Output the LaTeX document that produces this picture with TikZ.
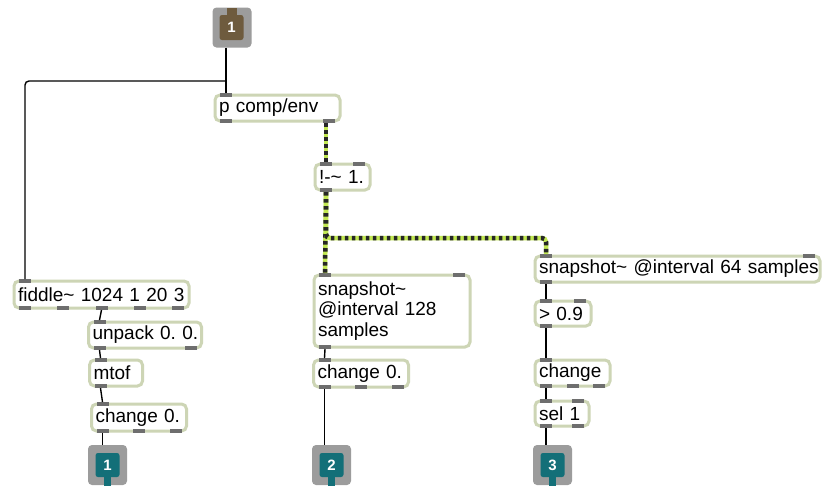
\documentclass[tikz,border=0pt]{standalone}
\usepackage{fontspec}
\setmainfont{Liberation Sans}
\frenchspacing
\definecolor{boxborder}{HTML}{CDD5B5}
\definecolor{tabgray}{HTML}{6E6E6E}
\definecolor{ioframe}{HTML}{9C9C9C}
\definecolor{inbrown}{HTML}{6E5B3E}
\definecolor{outteal}{HTML}{136F78}
\definecolor{siggreen}{HTML}{C2E852}
\newcommand\mxrow[6]{%
  \foreach \k in {1,...,#3}{%
    \ifnum#3=1 \pgfmathsetmacro\off{5}\else\pgfmathsetmacro\off{5+(\k-1)*(#2-22)/(#3-1)}\fi
    \coordinate (#1-#5\k) at ([xshift=\off pt+6pt,yshift=#6pt]#1.#4 west);
    \fill[tab] ([xshift=-6pt]#1-#5\k) rectangle ++(12,{2*#6});
  }}
\newcommand\mxports[4]{\mxrow{#1}{#2}{#3}{north}{i}{2}\mxrow{#1}{#2}{#4}{south}{o}{-2}}
\begin{document}
\begin{tikzpicture}[x=1pt,y=-1pt,
  obj/.style={draw=boxborder, line width=3pt, fill=white, rounded corners=5pt,
    anchor=north west, outer sep=0pt, inner xsep=4pt, inner ysep=0pt,
    minimum height=26pt, align=left, font=\fontsize{19}{20.5}\selectfont},
  tab/.style={fill=tabgray},
  cord/.style={draw=black, line width=1.4pt, rounded corners=4pt},
  sig/.style={line width=4.5pt, draw=siggreen, rounded corners=4pt,
    postaction={draw=black!85, line width=4.5pt, dash pattern=on 3.6pt off 3.4pt}},
  ioframe/.style={fill=ioframe, rounded corners=4pt, minimum width=39pt, minimum height=40pt, inner sep=0pt},
  ioinner/.style={rounded corners=2.5pt, minimum width=24pt, minimum height=24pt, inner sep=0pt,
    text=white, font=\fontsize{15}{15}\selectfont\bfseries},
]
\useasboundingbox[fill=white] (0,0) rectangle (824,485);

% inlet 1
\node[ioframe] (in1) at (232,27.5) {};
\node[ioinner, fill=inbrown, minimum height=25pt] (in1n) at (231.5,27.5) {1};
\fill[inbrown] ([xshift=-5pt]in1n.north) rectangle ++(10,-7);

% outlets
\node[ioframe] (o1) at (107.5,465) {};
\node[ioinner, fill=outteal] (o1n) at (107.5,465) {1};
\fill[outteal] ([xshift=-3.5pt]o1n.south) rectangle ++(7,12);
\node[ioframe] (o2) at (331.5,465) {};
\node[ioinner, fill=outteal] (o2n) at (331.5,465) {2};
\fill[outteal] ([xshift=-3.5pt]o2n.south) rectangle ++(7,12);
\node[ioframe] (o3) at (552.5,465) {};
\node[ioinner, fill=outteal] (o3n) at (552.5,465) {3};
\fill[outteal] ([xshift=-3.5pt]o3n.south) rectangle ++(7,12);

% objects
\node[obj, minimum width=125pt, text width=117pt] (pc) at (215,95) {\mbox{p comp/env}};
\mxports{pc}{125}{1}{2}
\node[obj, minimum width=55pt, text width=47pt] (bg) at (315,164) {\mbox{!-\textasciitilde{} 1.}};
\mxports{bg}{55}{2}{1}
\node[obj, minimum width=156pt, text width=148pt, minimum height=72pt] (sL) at (314,275) {snapshot\textasciitilde\\@interval 128\\samples};
\mxports{sL}{156}{2}{1}
\node[obj, minimum width=285pt, text width=277pt] (sR) at (535,256) {\mbox{snapshot\textasciitilde{} @interval 64 samples}};
\mxports{sR}{285}{2}{1}
\node[obj, minimum width=56pt, text width=48pt, minimum height=25pt] (gt) at (535,301) {\mbox{> 0.9}};
\mxports{gt}{56}{2}{1}
\node[obj, minimum width=75pt, text width=67pt] (chR) at (535,360) {\mbox{change}};
\mxports{chR}{75}{1}{3}
\node[obj, minimum width=54pt, text width=46pt, minimum height=25pt] (sel) at (535,401) {\mbox{sel 1}};
\mxports{sel}{54}{2}{2}
\node[obj, minimum width=175pt, text width=167pt, minimum height=27pt] (fd) at (14,281) {\mbox{fiddle\textasciitilde{} 1024 1 20 3}};
\mxports{fd}{175}{1}{5}
\node[obj, minimum width=113pt, text width=105pt] (up) at (88.5,322) {\mbox{unpack 0. 0.}};
\mxports{up}{113}{1}{2}
\node[obj, minimum width=53pt, text width=45pt] (mt) at (89.5,360) {\mbox{mtof}};
\mxports{mt}{53}{1}{1}
\node[obj, minimum width=95pt, text width=87pt, minimum height=27pt] (chL) at (91.5,404) {\mbox{change 0.}};
\mxports{chL}{95}{1}{3}
\node[obj, minimum width=95pt, text width=87pt, minimum height=27pt] (chM) at (313.5,360) {\mbox{change 0.}};
\mxports{chM}{95}{1}{3}

% control cords
\draw[cord] (in1.south -| pc-i1) -- (pc-i1);
\draw[cord] (pc-i1 |- 0,81) -| (fd-i1);
\draw[cord] (fd-o3) -- (up-i1);
\draw[cord] (up-o1) -- (mt-i1);
\draw[cord] (mt-o1) -- (chL-i1);
\draw[cord] (chL-o1) -- (chL-o1 |- o1.north);
\draw[cord] (sL-o1) -- (chM-i1);
\draw[cord] (chM-o1) -- (chM-o1 |- o2.north);
\draw[cord] (sR-o1) -- (gt-i1);
\draw[cord] (gt-o1) -- (chR-i1);
\draw[cord] (chR-o1) -- (sel-i1);
\draw[cord] (sel-o1) -- (sel-o1 |- o3.north);

% signal cords
\draw[sig] (pc-o2 -| bg-i1) -- (bg-i1);
\draw[sig] (bg-o1) -- (sL-i1);
\draw[sig] (bg-o1) -- (bg-o1 |- 0,238) -| (sR-i1);
\end{tikzpicture}
\end{document}
